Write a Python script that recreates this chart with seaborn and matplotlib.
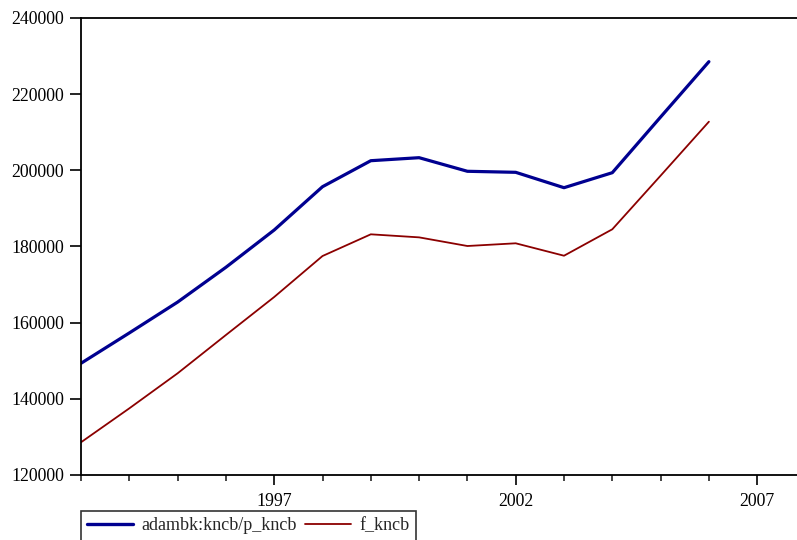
import numpy as np
import pandas as pd
import matplotlib
matplotlib.use("Agg")
import matplotlib.pyplot as plt
import seaborn as sns
from matplotlib.ticker import MultipleLocator, FixedLocator

years = list(range(1993, 2007))
ratio_kncb = [149330, 157300, 165400, 174540, 184330, 195700, 202530,
              203320, 199750, 199480, 195440, 199380, 214000, 228530]
f_kncb = [128590, 137500, 146700, 156760, 166740, 177500, 183200,
          182400, 180130, 180840, 177580, 184520, 198600, 212770]
series_names = ["adambk:kncb/p_kncb", "f_kncb"]
y_ticks = [120000, 140000, 160000, 180000, 200000, 220000, 240000]
x_ticks = [1997, 2002, 2007]

df = pd.DataFrame({
    "year": years * 2,
    "value": ratio_kncb + f_kncb,
    "series": [series_names[0]] * len(years) + [series_names[1]] * len(years),
})

sns.set_style("white")
plt.rcParams["font.family"] = ["Liberation Serif", "DejaVu Serif"]

W, H = 797, 540
fig = plt.figure(figsize=(W / 100, H / 100), dpi=100)
left, right, top, bottom = 81, 820, 18, 475
ax = fig.add_axes([left / W, (H - bottom) / H, (right - left) / W, (bottom - top) / H])

palette = {series_names[0]: "#000090", series_names[1]: "#8B0000"}
sns.lineplot(data=df, x="year", y="value", hue="series", palette=palette,
             ax=ax, legend=False)
lines = ax.get_lines()
lines[0].set_linewidth(2.3)
lines[1].set_linewidth(1.3)

# one year spans ~48.3 px; the axis runs past the right edge of the figure
ax.set_xlim(1993, 1993 + (right - left) / 48.3)
ax.set_ylim(120000, 240000)
ax.xaxis.set_major_locator(FixedLocator(x_ticks))
ax.xaxis.set_minor_locator(MultipleLocator(1))
ax.set_yticks(y_ticks)
ax.set_yticklabels([str(v) for v in y_ticks])
ax.set_xticklabels([str(v) for v in x_ticks])
ax.set_xlabel("")
ax.set_ylabel("")

for s in ["left", "bottom", "top"]:
    ax.spines[s].set_visible(True)
    ax.spines[s].set_color("black")
    ax.spines[s].set_linewidth(1.3)
ax.spines["right"].set_visible(False)

ax.tick_params(axis="x", which="major", direction="out", length=7, width=1.2,
               labelsize=12.75, pad=6, bottom=True, colors="black")
ax.tick_params(axis="x", which="minor", direction="out", length=4.5, width=1.2,
               bottom=True)
ax.tick_params(axis="y", which="major", direction="out", length=8, width=1.2,
               labelsize=12.75, pad=4, left=True, colors="black")

handles = [
    plt.Line2D([], [], color=palette[series_names[0]], lw=2.4),
    plt.Line2D([], [], color=palette[series_names[1]], lw=1.3),
]
leg = fig.legend(handles, series_names, loc="upper left",
                 bbox_to_anchor=(left / W, (H - 511) / H), ncol=2,
                 fontsize=13.0, frameon=True, fancybox=False,
                 handlelength=2.55, handletextpad=0.45, columnspacing=0.45,
                 borderpad=0.35, borderaxespad=0)
leg.get_frame().set_edgecolor("black")
leg.get_frame().set_linewidth(1.2)

fig.savefig("out.png", dpi=100, facecolor="white")
